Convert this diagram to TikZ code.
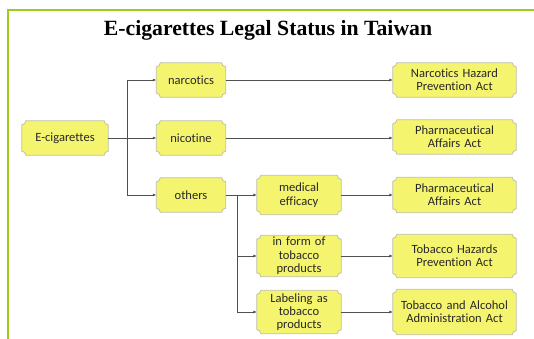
\documentclass[tikz,border=0pt]{standalone}
\usepackage{fontspec}
\setmainfont{Liberation Serif}
\newfontfamily\carlito[Ligatures=NoCommon]{Carlito}
\usetikzlibrary{arrows.meta,backgrounds,calc}
\definecolor{framegreen}{RGB}{155,204,30}
\definecolor{boxfill}{RGB}{244,244,110}
\definecolor{boxline}{RGB}{190,192,170}
\definecolor{linegray}{RGB}{80,80,80}
\definecolor{textgray}{RGB}{40,40,40}
\tikzset{
  boxbase/.style={inner sep=0pt, align=center, text=textgray,
    font=\carlito\fontsize{12.6}{13.4}\selectfont},
  bmid/.style={boxbase, text width=69bp, minimum height=34bp},
  bsub/.style={boxbase, text width=84bp, minimum height=41bp},
  bright/.style={boxbase, text width=123bp, minimum height=34bp},
  brightt/.style={boxbase, text width=123bp, minimum height=43bp},
  plaquestyle/.style={fill=boxfill, draw=boxline, line width=0.8bp},
  conn/.style={draw=linegray, line width=0.7bp},
  arr/.style={conn, -{Latex[length=3.5bp,width=3bp]}},
}
\newcommand\plaque[1]{%
  \path[plaquestyle] let \p1=(#1.south west), \p2=(#1.north east) in
    (\x1+4bp,\y1) -- (\x2-4bp,\y1)
    arc[start angle=180,end angle=90,radius=4bp] -- (\x2,\y2-4bp)
    arc[start angle=270,end angle=180,radius=4bp] -- (\x1+4bp,\y2)
    arc[start angle=0,end angle=-90,radius=4bp] -- (\x1,\y1+4bp)
    arc[start angle=90,end angle=0,radius=4bp] -- cycle;}
\begin{document}
\begin{tikzpicture}[x=1bp,y=-1bp]
\useasboundingbox (0,0) rectangle (534,338);
% frame
\draw[framegreen, line width=2.6bp] (8,339) -- (8,10) -- (535,10);
% title
\node[font=\bfseries\fontsize{21.8}{24}\selectfont] (title) at (268,30) {E-cigarettes Legal Status in Taiwan};
% nodes
\node[boxbase, text width=86bp, minimum height=34bp] (ecig) at (65,138) {E-cigarettes};
\node[bmid] (narc) at (191,80) {narcotics};
\node[bmid] (nic) at (191,138) {nicotine};
\node[bmid] (oth) at (191,195) {others};
\node[bsub, minimum height=39bp] (med) at (299,195) {medical\\efficacy};
\node[bsub] (form) at (299,256) {in form of\\tobacco\\products};
\node[bsub, minimum height=43bp] (lab) at (299,312) {Labeling as\\tobacco\\products};
\node[bright] (nhpa) at (454.5,80) {Narcotics Hazard\\Prevention Act};
\node[bright] (paa1) at (454.5,137) {Pharmaceutical\\Affairs Act};
\node[bright, minimum height=35bp] (paa2) at (454.5,195) {Pharmaceutical\\Affairs Act};
\node[brightt] (thpa) at (454.5,256) {Tobacco Hazards\\Prevention Act};
\node[brightt, minimum height=45bp] (taaa) at (454.5,312) {Tobacco and Alcohol\\Administration Act};
\begin{scope}[on background layer]
\foreach \nd in {ecig,narc,nic,oth,med,form,lab,nhpa,paa1,paa2,thpa,taaa}{\plaque{\nd}}
\end{scope}
% connectors
\coordinate (j1) at (127,138);
\coordinate (j2) at (237,195);
\draw[conn] (ecig.east) -- (j1);
\draw[arr] (j1) |- (narc.west);
\draw[arr] (j1) -- (nic.west);
\draw[arr] (j1) |- (oth.west);
\draw[conn] (oth.east) -- (j2);
\draw[arr] (j2) -- (med.west);
\draw[arr] (j2) |- (form.west);
\draw[arr] (j2) |- (lab.west);
\draw[arr] (narc.east) -- (narc.east -| nhpa.west);
\draw[arr] (nic.east) -- (nic.east -| paa1.west);
\draw[arr] (med.east) -- (med.east -| paa2.west);
\draw[arr] (form.east) -- (form.east -| thpa.west);
\draw[arr] (lab.east) -- (lab.east -| taaa.west);
\end{tikzpicture}
\end{document}
